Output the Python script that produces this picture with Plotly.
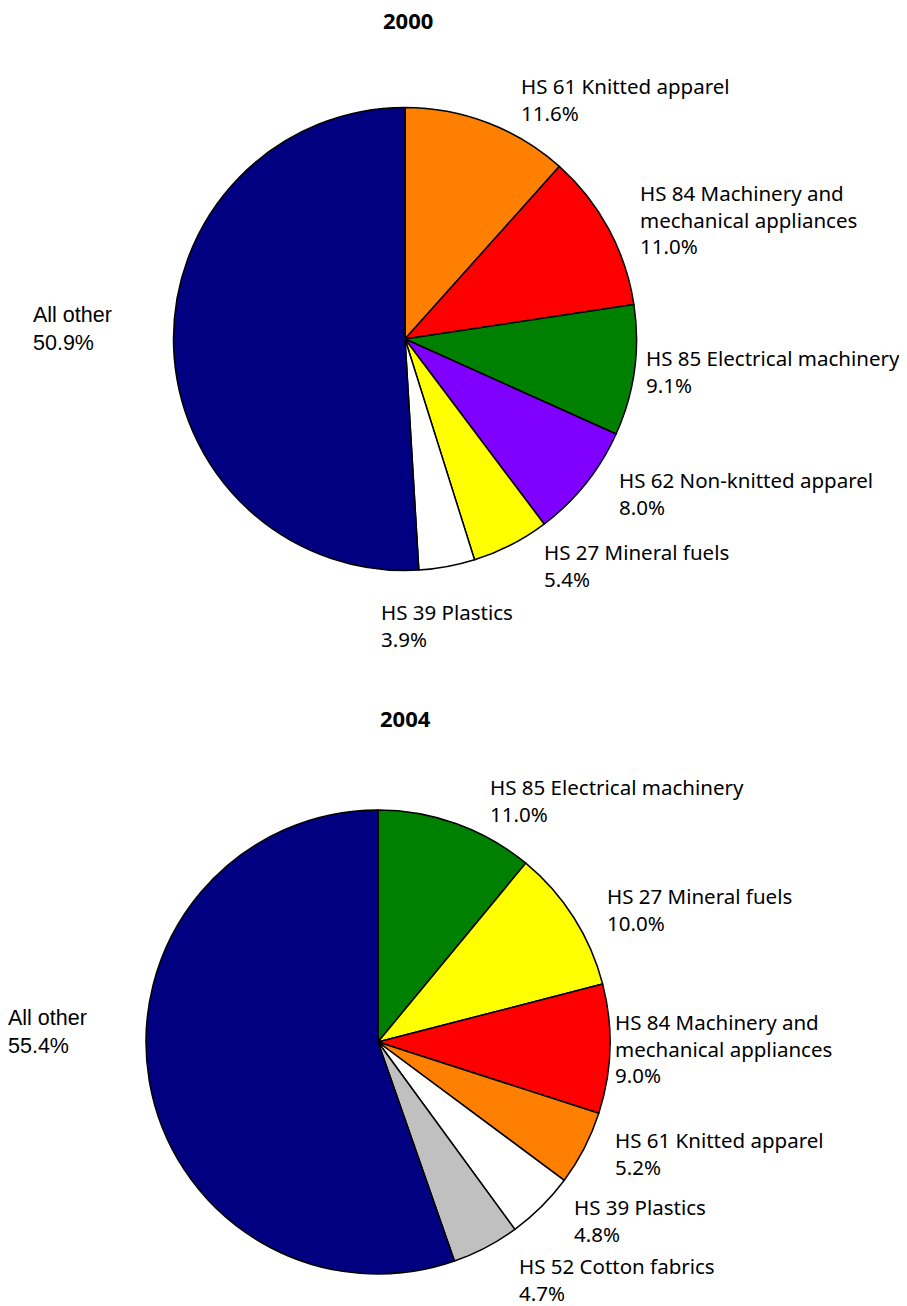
import math

import plotly.graph_objects as go

# page size and the 8px body margin that the html page adds around the figure
PAGE_W, PAGE_H = 907, 1306
PAD = 8
W, H = PAGE_W - PAD, PAGE_H - PAD
VISIBLE_RIGHT = PAGE_W - 2 * PAD  # the graph div is only as wide as the page body

# ---- data -------------------------------------------------------------
years = ["2000", "2004"]

labels_2000 = [
    "HS 61 Knitted apparel",
    "HS 84 Machinery and<br>mechanical appliances",
    "HS 85 Electrical machinery",
    "HS 62 Non-knitted apparel",
    "HS 27 Mineral fuels",
    "HS 39 Plastics",
    "All other",
]
values_2000 = [11.6, 11.0, 9.1, 8.0, 5.4, 3.9, 50.9]

labels_2004 = [
    "HS 85 Electrical machinery",
    "HS 27 Mineral fuels",
    "HS 84 Machinery and<br>mechanical appliances",
    "HS 61 Knitted apparel",
    "HS 39 Plastics",
    "HS 52 Cotton fabrics",
    "All other",
]
values_2004 = [11.0, 10.0, 9.0, 5.2, 4.8, 4.7, 55.4]

# ---- style ------------------------------------------------------------
COLORS = {
    "HS 61": "#FF8000",
    "HS 84": "#FF0000",
    "HS 85": "#008000",
    "HS 62": "#8000FF",
    "HS 27": "#FFFF00",
    "HS 39": "#FFFFFF",
    "HS 52": "#C0C0C0",
    "All o": "#000080",
}

LABEL_FONT = dict(family="Noto Sans, Tahoma, sans-serif", size=20.5, color="#000000")
OTHER_FONT = dict(family="Liberation Sans, Arial, sans-serif", size=21.5, color="#000000")
TITLE_FONT = dict(family="Noto Sans, Tahoma, sans-serif", size=22, color="#000000")
LINE_H = 1.3 * 20.5
GAP_MIN, GAP_MAX = 1, 30   # right-hand labels: closer to the rim near 3 o'clock
GAP_LEFT = 60              # left-hand labels sit further out, level with the centre
LEFT_RISE = 10
GAP_BELOW = 18             # labels centred under the pie
MIN_SPACE = 6

# pie placement in page pixels: centre x, centre y, radius
PIE_BOX = [(405, 339, 231.5), (378, 1042, 232)]
TITLE_POS = [(408, 20), (405, 718)]


def fx(px):
    return (px - PAD) / W


def fy(py):
    return 1 - (py - PAD) / H


def color_list(labels):
    return [COLORS[lab[:5]] for lab in labels]


def label_annotations(labels, values, cx, cy, r):
    total = sum(values)
    cum = 0.0
    placed = []
    for lab, v in zip(labels, values):
        theta = math.radians(360.0 * (cum + v / 2.0) / total)
        cum += v
        s, c = math.sin(theta), math.cos(theta)
        px = cx + r * s
        py = cy - r * c
        h = (lab.count("<br>") + 2) * LINE_H
        if abs(s) < 0.25:
            xanchor, x = "center", px
            yc = py - math.copysign(h / 2.0 + GAP_BELOW, c)
        elif s > 0:
            xanchor = "left"
            x = px + GAP_MIN + GAP_MAX * min(1.0, 2 * abs(c))
            yc = py - math.copysign(h / 2.0 * c * c, c)
        else:
            xanchor = "right"
            x = px - GAP_LEFT
            yc = cy - LEFT_RISE
        placed.append([lab, v, x, yc, h, xanchor])

    # keep consecutive right-hand labels from running into each other
    prev = None
    for item in placed:
        if item[5] == "right":
            continue
        if prev is not None:
            top = item[3] - item[4] / 2
            low = prev[3] + prev[4] / 2 + MIN_SPACE
            if top < low:
                item[3] += low - top
        prev = item

    out = []
    for lab, v, x, yc, h, xanchor in placed:
        out.append(
            dict(
                x=fx(x),
                y=fy(yc),
                xref="paper",
                yref="paper",
                text=f"{lab}<br>{v:.1f}%",
                showarrow=False,
                xanchor=xanchor,
                yanchor="middle",
                align="left",
                font=OTHER_FONT if lab == "All other" else LABEL_FONT,
            )
        )
    return out


fig = go.Figure()
annotations = []

for (labels, values), (cx, cy, r), year, (tx, ty) in zip(
    [(labels_2000, values_2000), (labels_2004, values_2004)], PIE_BOX, years, TITLE_POS
):
    fig.add_trace(
        go.Pie(
            labels=labels,
            values=values,
            sort=False,
            direction="clockwise",
            rotation=0,
            textinfo="none",
            hoverinfo="label+percent",
            marker=dict(colors=color_list(labels), line=dict(color="#000000", width=1.5)),
            domain=dict(x=[fx(cx - r), fx(cx + r)], y=[fy(cy + r), fy(cy - r)]),
            showlegend=False,
        )
    )
    annotations += label_annotations(labels, values, cx, cy, r)
    annotations.append(
        dict(
            x=fx(tx),
            y=fy(ty),
            xref="paper",
            yref="paper",
            text=f"<b>{year}</b>",
            showarrow=False,
            xanchor="center",
            yanchor="middle",
            font=TITLE_FONT,
        )
    )

fig.update_layout(
    width=W,
    height=H,
    margin=dict(l=0, r=0, t=0, b=0),
    paper_bgcolor="#FFFFFF",
    plot_bgcolor="#FFFFFF",
    annotations=annotations,
)

fig.write_html("out.html")
